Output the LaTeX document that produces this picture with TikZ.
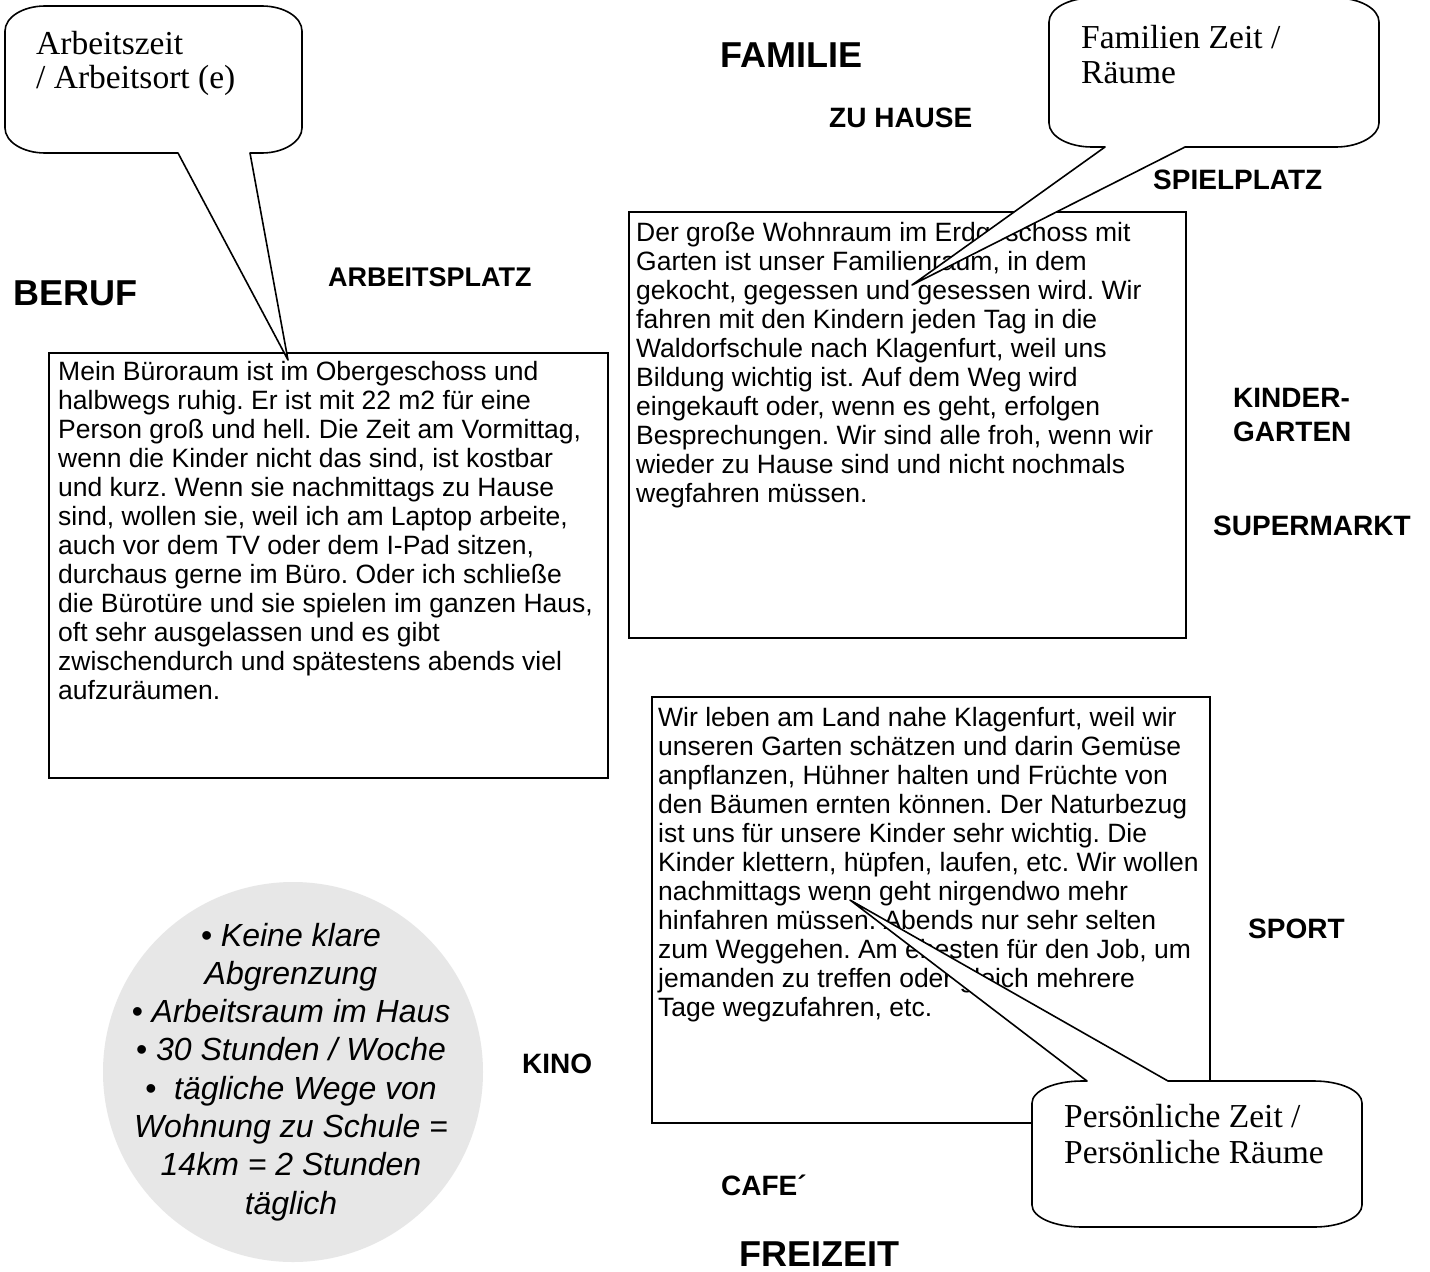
\documentclass[tikz,border=0pt]{standalone}
\usepackage{fontspec}
\setmainfont{Liberation Sans}
\newfontfamily\bubblefont{Liberation Serif}
\definecolor{discgray}{RGB}{231,231,231}
\frenchspacing

\tikzset{
  heading/.style={font=\bfseries\fontsize{36}{40}\selectfont, anchor=base west, inner sep=0pt},
  place/.style={font=\bfseries\fontsize{28}{33}\selectfont, anchor=base west, inner sep=0pt},
  bodyline/.style={font=\fontsize{26.5}{29}\selectfont, anchor=base west, inner sep=0pt},
  discline/.style={font=\itshape\fontsize{32}{38}\selectfont, anchor=base, inner sep=0pt},
  bubbleline/.style={font=\bubblefont\fontsize{33.5}{35}\selectfont, anchor=base west, inner sep=0pt},
  textbox/.style={draw=black, line width=2.2pt},
  bubble/.style={draw=black, fill=white, line width=1.6pt, line join=round},
}

\begin{document}
\begin{tikzpicture}[x=1pt, y=-1pt]
\clip (0,0) rectangle (1430,1272);
\fill[white] (0,0) rectangle (1430,1272);

% ---------- headings and places ----------
\node[heading] (beruf)    at (13,305)   {BERUF};
\node[heading] (familie)  at (720,67)   {FAMILIE};
\node[heading] (freizeit) at (739,1266) {FREIZEIT};

\node[place, font=\bfseries\fontsize{27}{32}\selectfont] (arbeitsplatz) at (328,286) {ARBEITSPLATZ};
\node[place] (zuhause)      at (829,127)  {ZU HAUSE};
\node[place] (spielplatz)   at (1153,189) {SPIELPLATZ};
\node[place] (kinder)       at (1233,407) {KINDER-};
\node[place] (garten)       at (1233,441) {GARTEN};
\node[place] (supermarkt)   at (1213,535) {SUPERMARKT};
\node[place] (sport)        at (1248,938) {SPORT};
\node[place] (kino)         at (522,1073) {KINO};
\node[place] (cafe)         at (721,1195) {CAFE´};

% ---------- text boxes ----------
\draw[textbox] (49,353) rectangle (608,778);
\foreach \t [count=\i] in {
  {Mein Büroraum ist im Obergeschoss und},
  {halbwegs ruhig. Er ist mit 22 m2 für eine},
  {Person groß und hell. Die Zeit am Vormittag,},
  {wenn die Kinder nicht das sind, ist kostbar},
  {und kurz. Wenn sie nachmittags zu Hause},
  {sind, wollen sie, weil ich am Laptop arbeite,},
  {auch vor dem TV oder dem I-Pad sitzen,},
  {durchaus gerne im Büro. Oder ich schließe},
  {die Bürotüre und sie spielen im ganzen Haus,},
  {oft sehr ausgelassen und es gibt},
  {zwischendurch und spätestens abends viel},
  {aufzuräumen.}}
  \node[bodyline] (beruf-\i) at (58,{380+29*(\i-1)}) {\t};

\draw[textbox] (629,212) rectangle (1186,638);
\foreach \t [count=\i] in {
  {Der große Wohnraum im Erdgeschoss mit},
  {Garten ist unser Familienraum, in dem},
  {gekocht, gegessen und gesessen wird. Wir},
  {fahren mit den Kindern jeden Tag in die},
  {Waldorfschule nach Klagenfurt, weil uns},
  {Bildung wichtig ist. Auf dem Weg wird},
  {eingekauft oder, wenn es geht, erfolgen},
  {Besprechungen. Wir sind alle froh, wenn wir},
  {wieder zu Hause sind und nicht nochmals},
  {wegfahren müssen.}}
  \node[bodyline] (familie-\i) at (636,{241+29*(\i-1)}) {\t};

\draw[textbox] (652,697) rectangle (1210,1123);
\foreach \t [count=\i] in {
  {Wir leben am Land nahe Klagenfurt, weil wir},
  {unseren Garten schätzen und darin Gemüse},
  {anpflanzen, Hühner halten und Früchte von},
  {den Bäumen ernten können. Der Naturbezug},
  {ist uns für unsere Kinder sehr wichtig. Die},
  {Kinder klettern, hüpfen, laufen, etc. Wir wollen},
  {nachmittags wenn geht nirgendwo mehr},
  {hinfahren müssen. Abends nur sehr selten},
  {zum Weggehen. Am ehesten für den Job, um},
  {jemanden zu treffen oder gleich mehrere},
  {Tage wegzufahren, etc.}}
  \node[bodyline] (freizeit-\i) at (658,{726+29*(\i-1)}) {\t};

% ---------- summary disc ----------
\fill[discgray] (293,1072) circle[radius=190];
\foreach \t [count=\i] in {
  {• Keine klare},
  {Abgrenzung},
  {• Arbeitsraum im Haus},
  {• 30 Stunden / Woche},
  {•\ \ tägliche Wege von},
  {Wohnung zu Schule =},
  {14km = 2 Stunden},
  {täglich}}
  \node[discline] (disc-\i) at (291,{946+38.3*(\i-1)}) {\t};

% ---------- speech bubbles ----------
\coordinate (tipwork)   at (288,360);
\coordinate (tipfamily) at (912,285);
\coordinate (tipself)   at (850,900);

% work time / place
\draw[bubble] (tipwork) -- (250,153) -- (262,153)
  .. controls (284.1,153) and (302,141.2) .. (302,128)
  -- (302,31)
  .. controls (302,17.2) and (284.1,6) .. (262,6)
  -- (45,6)
  .. controls (22.9,6) and (5,17.2) .. (5,31)
  -- (5,128)
  .. controls (5,141.8) and (22.9,153) .. (45,153)
  -- (178,153) -- cycle;
\node[bubbleline] (worktime-1) at (36,54) {Arbeitszeit};
\node[bubbleline] (worktime-2) at (36,88) {/ Arbeitsort (e)};

% family time / rooms
\draw[bubble] (tipfamily) -- (1185,147) -- (1336,147)
  .. controls (1359.7,147) and (1379,135.4) .. (1379,123)
  -- (1379,22)
  .. controls (1379,8.7) and (1359.7,-2) .. (1336,-2)
  -- (1092,-2)
  .. controls (1068.3,-2) and (1049,8.7) .. (1049,22)
  -- (1049,123)
  .. controls (1049,136.3) and (1068.3,147) .. (1092,147)
  -- (1105,147) -- cycle;
\node[bubbleline] (familytime-1) at (1081,48) {Familien Zeit /};
\node[bubbleline] (familytime-2) at (1081,83) {Räume};

% personal time / rooms
\draw[bubble] (tipself) -- (1168,1081) -- (1314,1081)
  .. controls (1340.5,1081) and (1362,1090.8) .. (1362,1103)
  -- (1362,1205)
  .. controls (1362,1217.2) and (1340.5,1227) .. (1314,1227)
  -- (1082,1227)
  .. controls (1054.4,1227) and (1032,1217.2) .. (1032,1205)
  -- (1032,1103)
  .. controls (1032,1090.8) and (1054.4,1081) .. (1082,1081)
  -- (1087,1081) -- cycle;
\node[bubbleline] (selftime-1) at (1064,1127) {Persönliche Zeit /};
\node[bubbleline] (selftime-2) at (1064,1163) {Persönliche Räume};
\end{tikzpicture}
\end{document}
